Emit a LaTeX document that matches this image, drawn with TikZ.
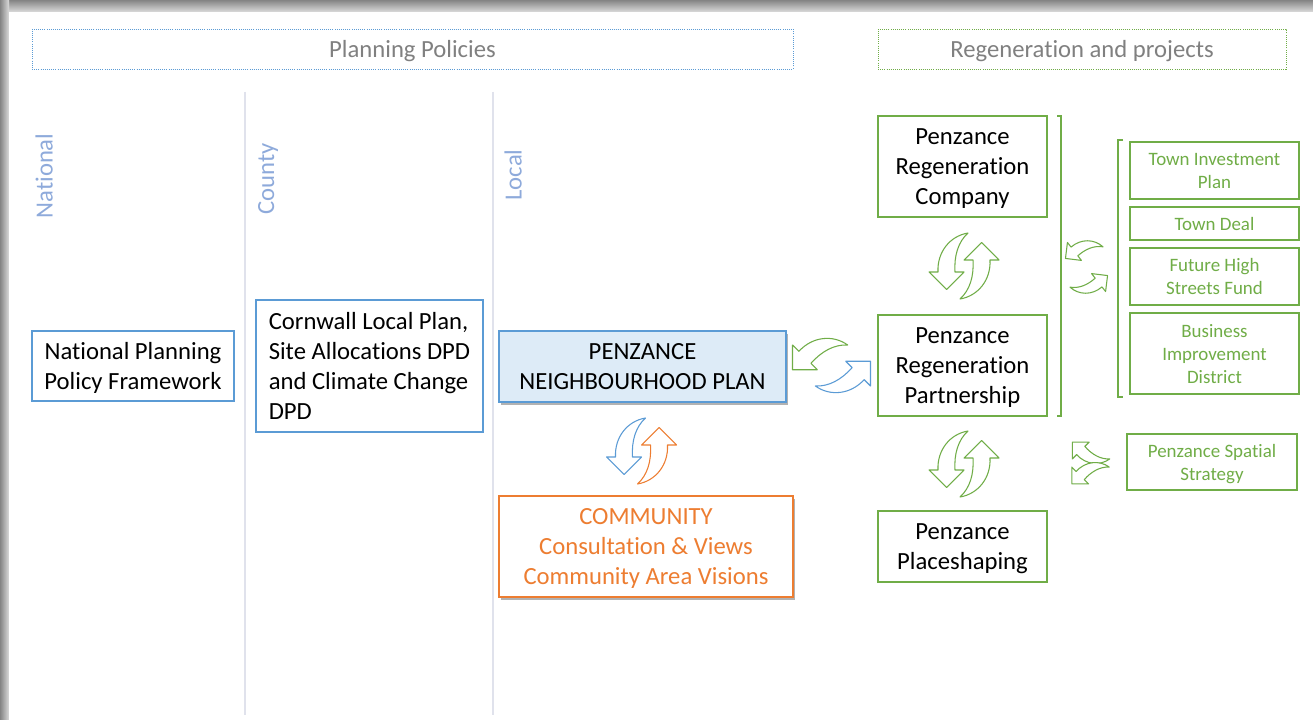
\documentclass[tikz,border=0pt]{standalone}
\usepackage{fontspec}
\setmainfont{Carlito}[Ligatures=NoCommon]
\usetikzlibrary{shadows}
\definecolor{pblue}{RGB}{91,155,213}
\definecolor{pgreen}{RGB}{112,173,71}
\definecolor{porange}{RGB}{237,125,49}
\definecolor{pgrayt}{RGB}{128,128,128}
\definecolor{plabel}{RGB}{142,170,219}
\definecolor{plight}{RGB}{221,235,247}
\definecolor{psep}{RGB}{224,226,236}
\definecolor{pframe}{RGB}{165,165,165}
\tikzset{
  every node/.append style={text depth=0pt},
  mainfont/.style={font=\fontsize{18.5pt}{22.3pt}\selectfont},
  smallfont/.style={font=\fontsize{14.2pt}{17.25pt}\selectfont},
  hdr/.style={densely dotted, line width=0.6pt, inner sep=0pt, text=pgrayt, mainfont, minimum height=30pt},
  vlabel/.style={rotate=90, text=plabel, mainfont, inner sep=0pt},
  bbox/.style={draw=pblue, line width=0.8pt, fill=white, mainfont, inner sep=0pt},
  gbox/.style={draw=pgreen, line width=0.8pt, fill=white, mainfont, align=center, inner sep=0pt, minimum width=126.75pt},
  sbox/.style={draw=pgreen, line width=0.8pt, fill=white, smallfont, text=pgreen, align=center, inner sep=0pt, minimum width=126.75pt},
  pshadow/.style={drop shadow={shadow xshift=1.5pt, shadow yshift=-2pt, opacity=0.3, fill=black}},
  carrow/.pic={
    \filldraw[fill=white, line width=0.8pt, line join=round, pic actions]
      (4,-33) .. controls (-14,-30) and (-27,-14) .. (-26,6) -- (-35,6) -- (-17.5,23.5) -- (0,6) -- (-9,6)
      .. controls (-10,-10) and (-6,-24) .. (4,-33) -- cycle;
  }
}
\begin{document}
\begin{tikzpicture}[x=0.75pt, y=-0.75pt]
\useasboundingbox (0,0) rectangle (1313,720);
% page frame
\fill[pframe] (0,0) rectangle (1313,720);
\shade[top color=pframe!80!black, bottom color=pframe!40] (0,0) rectangle (1313,12);
\shade[left color=pframe!80!black, right color=pframe!40] (0,0) rectangle (9,720);
\fill[white] (9,12) rectangle (1313,720);

% headers
\node[hdr, draw=pblue, minimum width=570.75pt] (hpp) at (412.5,49) {Planning Policies};
\node[hdr, draw=pgreen, minimum width=306pt] (hrp) at (1082,49) {Regeneration and projects};

% separators
\draw[psep, line width=0.8pt] (245,92) -- (245,715);
\draw[psep, line width=0.8pt] (493,92) -- (493,715);

% vertical labels
\node[vlabel] (lnat) at (44,176) {National};
\node[vlabel] (lcty) at (266,179) {County};
\node[vlabel] (lloc) at (513,175) {Local};

% planning boxes
\node[bbox, align=center, minimum width=151.5pt, minimum height=52.5pt] (nppf) at (133,366)
  {National Planning\\Policy Framework};
\node[bbox, align=left, minimum width=170.25pt, minimum height=99pt] (clp) at (369.5,366)
  {Cornwall Local Plan,\\Site Allocations DPD\\and Climate Change\\DPD};
\node[bbox, pshadow, fill=plight, align=center, minimum width=215.25pt, minimum height=53.25pt] (pnp) at (642.5,366.5)
  {PENZANCE\\NEIGHBOURHOOD PLAN};
\node[draw=porange, line width=0.9pt, fill=white, pshadow, mainfont, text=porange, align=center, inner sep=0pt,
  minimum width=220.5pt, minimum height=75.75pt] (com) at (646,546.5)
  {COMMUNITY\\Consultation \& Views\\Community Area Visions};

% regeneration boxes
\node[gbox, minimum height=75.75pt] (prc) at (962.5,166.5) {Penzance\\Regeneration\\Company};
\node[gbox, minimum height=75.75pt] (prp) at (962.5,365.5) {Penzance\\Regeneration\\Partnership};
\node[gbox, minimum height=53.25pt] (pps) at (962.5,546.5) {Penzance\\Placeshaping};

% project boxes
\node[sbox, minimum height=42.75pt] (tip) at (1214.5,170.5) {Town Investment\\Plan};
\node[sbox, minimum height=24.75pt] (tdl) at (1214.5,223.5) {Town Deal};
\node[sbox, minimum height=42.75pt] (fhs) at (1214.5,276.5) {Future High\\Streets Fund};
\node[sbox, minimum height=60.75pt] (bid) at (1214.5,353.5) {Business\\Improvement\\District};
\node[sbox, minimum height=42pt, minimum width=127.5pt] (pss) at (1212,462) {Penzance Spatial\\Strategy};

% brackets
\draw[pgreen, line width=0.8pt] (1057,116) -- (1061,116) -- (1061,416) -- (1057,416);
\draw[pgreen, line width=0.8pt] (1123,140) -- (1118,140) -- (1118,397) -- (1123,397);

% circular arrows
\pic[draw=pgreen] at (964,266) {carrow};
\pic[draw=pgreen, rotate=180] at (964,266) {carrow};
\pic[draw=pgreen] at (964,464) {carrow};
\pic[draw=pgreen, rotate=180] at (964,464) {carrow};
\pic[draw=pblue] at (641.5,451) {carrow};
\pic[draw=porange, rotate=180] at (641.5,451) {carrow};
\pic[draw=pgreen, rotate=-45] at (821.5,365.5) {carrow};
\pic[draw=pblue, rotate=135] at (841.5,365.5) {carrow};
\pic[draw=pgreen, rotate=-52, scale=0.65] at (1084.5,258) {carrow};
\pic[draw=pgreen, rotate=128, scale=0.65] at (1088.5,276) {carrow};
\pic[draw=pgreen, rotate=-135, xscale=-1, scale=0.68] at (1092,445) {carrow};
\pic[draw=pgreen, rotate=-45, scale=0.68] at (1091.5,481) {carrow};
\end{tikzpicture}
\end{document}
